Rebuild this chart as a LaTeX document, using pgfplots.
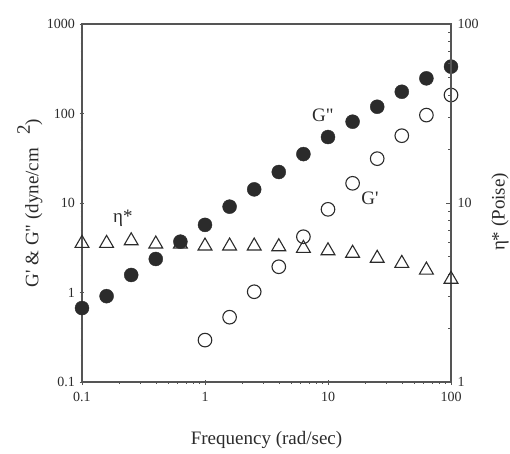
\documentclass[border=0pt]{standalone}
\usepackage{pgfplots}
\pgfplotsset{compat=1.18}
\usepackage{fontspec}
\setmainfont{Liberation Serif}
\definecolor{ink}{HTML}{2B2B2B}
\definecolor{axisgray}{HTML}{555555}
\begin{document}
\begin{tikzpicture}
\useasboundingbox (0,0) rectangle (510pt,453pt);
\begin{axis}[
  at={(82pt,71pt)}, anchor=south west,
  scale only axis, width=369pt, height=358pt,
  xmode=log, ymode=log,
  xmin=0.1, xmax=100, ymin=0.1, ymax=1000,
  xtick={0.1,1,10,100}, xticklabels={0.1,1,10,100},
  ytick={0.1,1,10,100,1000}, yticklabels={0.1,1,10,100,1000},
  xtick pos=bottom, ytick pos=left,
  tick align=center,
  major tick length=5pt, minor tick length=3pt,
  axis line style={axisgray, line width=1.1pt},
  every tick/.style={axisgray, line width=0.8pt},
  tick label style={font=\fontsize{14}{16}\selectfont, text=ink},
  xticklabel style={yshift=-4pt},
  yticklabel style={xshift=-1pt},
  xlabel={Frequency (rad/sec)},
  ylabel={G\textquotesingle\ \& G\textquotedbl\ (dyne/cm\hspace{0.7em}\raisebox{0.45em}{2})},
  label style={font=\fontsize{19}{22}\selectfont, text=ink},
  xlabel style={at={(axis description cs:0.5,-0.162)}, anchor=center},
  ylabel style={at={(axis description cs:-0.141,0.5)}, anchor=center},
  clip=false,
]
% G'' (filled circles)
\addplot[only marks, mark=*, mark size=7pt, mark options={fill=ink, draw=ink}] coordinates {
 (0.1,0.67) (0.1585,0.91) (0.2512,1.57) (0.3981,2.37) (0.631,3.7)
 (1,5.7) (1.585,9.1) (2.512,14.2) (3.981,22.2) (6.31,35.2)
 (10,54.6) (15.85,81) (25.12,119) (39.81,175) (63.1,247) (100,334)
};
% G' (open circles)
\addplot[only marks, mark=o, mark size=6.8pt, mark options={draw=ink, line width=1.1pt}] coordinates {
 (1,0.294) (1.585,0.53) (2.512,1.02) (3.981,1.94) (6.31,4.2)
 (10,8.5) (15.85,16.6) (25.12,31.3) (39.81,56.5) (63.1,96) (100,161)
};
\node[font=\fontsize{19}{22}\selectfont, text=ink] at (axis cs:9.1,96) {G\textquotedbl};
\node[font=\fontsize{19}{22}\selectfont, text=ink] at (axis cs:21.9,11.4) {G\textquotesingle};
\node[font=\fontsize{19}{22}\selectfont, text=ink] at (axis cs:0.215,6.8) {η*};
\end{axis}
\begin{axis}[
  at={(82pt,71pt)}, anchor=south west,
  scale only axis, width=369pt, height=358pt,
  xmode=log, ymode=log,
  xmin=0.1, xmax=100, ymin=1, ymax=100,
  axis x line=none, axis y line*=right,
  ytick={1,10,100}, yticklabels={1,10,100},
  tick align=inside,
  major tick length=5pt, minor tick length=3pt,
  axis line style={axisgray, line width=1.1pt},
  every tick/.style={axisgray, line width=0.8pt},
  tick label style={font=\fontsize{14}{16}\selectfont, text=ink},
  yticklabel style={xshift=3pt},
  ylabel={η* (Poise)},
  label style={font=\fontsize{19}{22}\selectfont, text=ink},
  ylabel style={at={(axis description cs:1.133,0.475)}, anchor=center, rotate=0},
  clip=false,
]
\addplot[only marks, mark=triangle, mark size=8pt, mark options={draw=ink, fill=white, line width=1.1pt}] coordinates {
 (0.1,5.95) (0.1585,5.95) (0.2512,6.15) (0.3981,5.9) (0.631,5.9)
 (1,5.75) (1.585,5.75) (2.512,5.75) (3.981,5.7) (6.31,5.58)
 (10,5.41) (15.85,5.24) (25.12,4.91) (39.81,4.6) (63.1,4.22) (100,3.75)
};
\end{axis}
\end{tikzpicture}
\end{document}
